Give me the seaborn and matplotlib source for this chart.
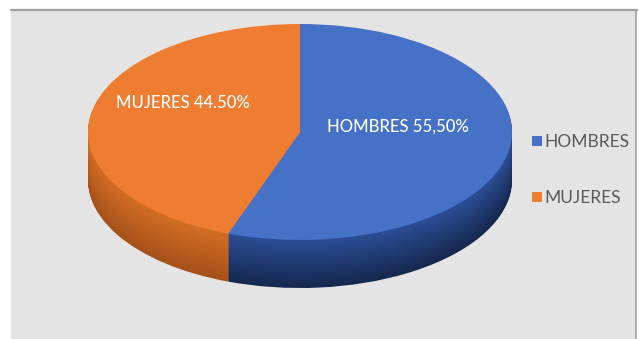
import matplotlib
matplotlib.use("Agg")
import matplotlib.pyplot as plt
import seaborn as sns
import numpy as np
from matplotlib.patches import Rectangle, Patch
from matplotlib.lines import Line2D
import matplotlib.colors as mcolors

# ---- data ----
categories = ["HOMBRES", "MUJERES"]
values = [55.5, 44.5]
slice_labels = ["HOMBRES 55,50%", "MUJERES 44.50%"]

sns.set_theme(style="white")
plt.rcParams["font.family"] = ["Lato", "DejaVu Sans"]

top_colors = ["#4572c6", "#ee7d32"]
side_top = ["#2c4e96", "#d46d24"]
side_bot = ["#15284f", "#a5511a"]

W, H = 639, 339
fig = plt.figure(figsize=(W / 100, H / 100), dpi=100)
fig.patch.set_facecolor("white")

# grey panel
fig.patches.append(Rectangle((11 / W, 0), (636 - 11) / W, (H - 10) / H,
                             transform=fig.transFigure, facecolor="#e4e4e4",
                             edgecolor="none", zorder=-5))
fig.lines.append(Line2D([11 / W, 637 / W], [(H - 10) / H] * 2, transform=fig.transFigure,
                        color="#a0a0a0", lw=1.6, zorder=-4))
fig.lines.append(Line2D([636 / W] * 2, [0, (H - 10) / H], transform=fig.transFigure,
                        color="#a0a0a0", lw=1.2, zorder=-4))

# pie axes: top ellipse center (300,132), a=212, b=108, depth 48 px
a_px, b_px, depth_px = 212, 108, 48
left, top = 300 - a_px, 132 - b_px
height_px = 2 * b_px + depth_px
ax = fig.add_axes([left / W, (H - (top + height_px)) / H, 2 * a_px / W, height_px / H])
ax.patch.set_alpha(0)
ax.set_zorder(2)

depth = depth_px / b_px
n_layers = 60
for i in range(n_layers, 0, -1):
    t = i / n_layers
    cols = [mcolors.to_hex(np.array(mcolors.to_rgb(c1)) * (1 - t) + np.array(mcolors.to_rgb(c2)) * t)
            for c1, c2 in zip(side_top, side_bot)]
    ax.pie(values, colors=cols, startangle=90, counterclock=False,
           center=(0, -depth * t), radius=1,
           wedgeprops=dict(linewidth=0))

ax.pie(values, colors=top_colors, startangle=90, counterclock=False,
       center=(0, 0), radius=1, wedgeprops=dict(linewidth=0))

ax.set_aspect("auto")
ax.set_xlim(-1, 1)
ax.set_ylim(1 - height_px / b_px, 1)
ax.axis("off")

# slice labels
label_pos = [(0.462, 0.046), (-0.552, 0.27)]
for txt, (x, y) in zip(slice_labels, label_pos):
    ax.text(x, y, txt, color="white", fontsize=12, ha="center", va="center",
            fontweight="medium")

# legend
handles = [Patch(facecolor=c, edgecolor="none") for c in top_colors]
fig.legend(handles, categories, loc="center left",
           bbox_to_anchor=(532 / W, (H - 170) / H), frameon=False,
           borderaxespad=0, borderpad=0,
           handlelength=0.55, handleheight=0.55, handletextpad=0.15,
           labelspacing=2.3, fontsize=12.5, labelcolor="#595959")

fig.savefig("out.png", dpi=100, facecolor=fig.get_facecolor())
